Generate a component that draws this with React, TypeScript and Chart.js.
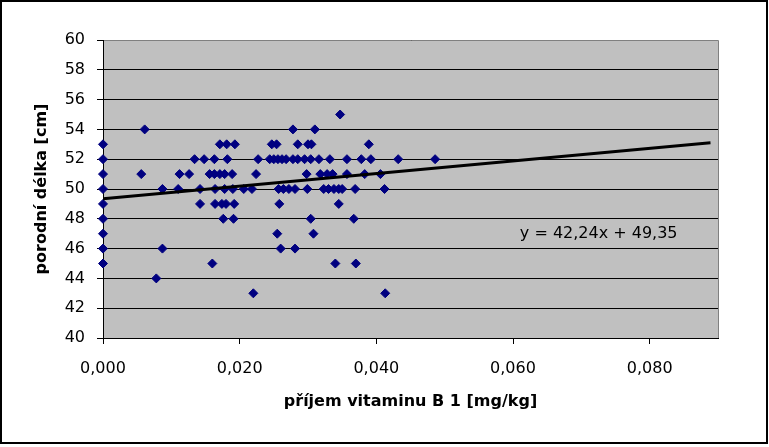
import React, { useEffect, useRef } from "react";
import { Chart, registerables } from "chart.js";

Chart.register(...registerables);

// Vitamin B1 intake [mg/kg] of the points at each birth length [cm]
const intakeAt55 = [0.0347];
const intakeAt54 = [0.0061, 0.0278, 0.031];
const intakeAt53 = [0, 0.0171, 0.0181, 0.0193, 0.0247, 0.0254, 0.0285, 0.03, 0.0305, 0.0389];
const intakeAt52 = [
  0, 0.0134, 0.0148, 0.0163, 0.0182, 0.0227, 0.0244, 0.025, 0.0256, 0.0262, 0.0268,
  0.0278, 0.0285, 0.0295, 0.0304, 0.0316, 0.0332, 0.0357, 0.0378, 0.0392, 0.0432, 0.0486,
];
const intakeAt51 = [
  0, 0.0056, 0.0112, 0.0126, 0.0156, 0.0163, 0.0171, 0.0178, 0.0189, 0.0224, 0.0298,
  0.0318, 0.0328, 0.0336, 0.0357, 0.0383, 0.0406,
];
const intakeAt50 = [
  0, 0.0087, 0.011, 0.0142, 0.0164, 0.0178, 0.019, 0.0206, 0.0218, 0.0257, 0.0264,
  0.0272, 0.0281, 0.0299, 0.0323, 0.033, 0.0338, 0.0345, 0.035, 0.0369, 0.0412,
];
const intakeAt49 = [0, 0.0142, 0.0164, 0.0174, 0.018, 0.0192, 0.0258, 0.0345];
const intakeAt48 = [0, 0.0176, 0.0191, 0.0304, 0.0367];
const intakeAt47 = [0, 0.0255, 0.0308];
const intakeAt46 = [0, 0.0087, 0.026, 0.0281];
const intakeAt45 = [0, 0.016, 0.034, 0.037];
const intakeAt44 = [0.0078];
const intakeAt43 = [0.022, 0.0413];

const birthLengths = [55, 54, 53, 52, 51, 50, 49, 48, 47, 46, 45, 44, 43];
const intakeRows = [
  intakeAt55, intakeAt54, intakeAt53, intakeAt52, intakeAt51, intakeAt50, intakeAt49,
  intakeAt48, intakeAt47, intakeAt46, intakeAt45, intakeAt44, intakeAt43,
];

const xTickValues = [0, 0.02, 0.04, 0.06, 0.08];
const xMin = 0;
const xMax = 0.09;
const yMin = 40;
const yMax = 60;
const yStep = 2;

const trendSlope = 42.24;
const trendIntercept = 49.35;
const trendXStart = 0;
const trendXEnd = 0.0889;
const equationText = "y = 42,24x + 49,35";
const equationAt = { x: 0.061, y: 47.0 };

const xTitle = "příjem vitaminu B 1 [mg/kg]";
const yTitle = "porodní délka [cm]";

const FONT = "DejaVu Sans";

export default function App() {
  const canvasRef = useRef<HTMLCanvasElement>(null);

  useEffect(() => {
    const canvas = canvasRef.current;
    if (!canvas) return;

    const points = birthLengths.flatMap((len, i) => intakeRows[i].map((x) => ({ x, y: len })));
    const trend = [trendXStart, trendXEnd].map((x) => ({ x, y: trendSlope * x + trendIntercept }));

    const excelPlugin = {
      id: "excelStyle",
      beforeDraw(chart: any) {
        const { ctx, chartArea: a } = chart;
        ctx.save();
        ctx.fillStyle = "#ffffff";
        ctx.fillRect(0, 0, chart.width, chart.height);
        ctx.fillStyle = "#c0c0c0";
        ctx.fillRect(a.left, a.top, a.right - a.left, a.bottom - a.top);
        ctx.restore();
      },
      beforeDatasetsDraw(chart: any) {
        const { ctx, chartArea: a } = chart;
        ctx.save();
        ctx.strokeStyle = "#808080";
        ctx.lineWidth = 1;
        ctx.beginPath();
        ctx.moveTo(Math.round(a.left) + 1, Math.round(a.top) + 0.5);
        ctx.lineTo(Math.round(a.right) + 0.5, Math.round(a.top) + 0.5);
        ctx.lineTo(Math.round(a.right) + 0.5, Math.round(a.bottom));
        ctx.stroke();
        ctx.restore();
      },
      afterDraw(chart: any) {
        const { ctx } = chart;
        const xs = chart.scales.x;
        const ys = chart.scales.y;
        ctx.save();
        ctx.fillStyle = "#000";
        ctx.font = `16px "${FONT}"`;
        ctx.textAlign = "left";
        ctx.textBaseline = "middle";
        ctx.fillText(equationText, xs.getPixelForValue(equationAt.x), ys.getPixelForValue(equationAt.y));
        ctx.strokeStyle = "#000";
        ctx.lineWidth = 2;
        ctx.strokeRect(1, 1, 766, 442);
        ctx.restore();
      },
    };

    const chart = new Chart(canvas, {
      type: "scatter",
      data: {
        datasets: [
          {
            type: "line",
            label: "trend",
            data: trend,
            borderColor: "#000",
            borderWidth: 3,
            pointRadius: 0,
            fill: false,
            order: 0,
          } as any,
          {
            label: "data",
            data: points,
            pointStyle: "rectRot",
            pointRadius: 4.5,
            pointBorderWidth: 1,
            backgroundColor: "#000080",
            borderColor: "#000080",
            clip: false,
            order: 1,
          },
        ],
      },
      options: {
        responsive: false,
        animation: false,
        events: [],
        layout: { padding: { top: 40, right: 51, bottom: 0, left: 0 } },
        plugins: {
          legend: { display: false },
          tooltip: { enabled: false },
          title: { display: false },
        },
        scales: {
          x: {
            type: "linear",
            position: "bottom",
            min: xMin,
            max: xMax,
            afterBuildTicks: (s: any) => {
              s.ticks = xTickValues.map((v) => ({ value: v }));
            },
            afterFit: (s: any) => {
              s.height = 109;
            },
            grid: { drawOnChartArea: false, drawTicks: true, tickLength: 6, color: "#000", lineWidth: 1 },
            border: { display: true, color: "#000", width: 1 },
            ticks: {
              color: "#000",
              font: { family: FONT, size: 16 },
              padding: 15,
              maxRotation: 0,
              autoSkip: false,
              callback: (v: any) => Number(v).toFixed(3).replace(".", ","),
            },
            title: {
              display: true,
              text: xTitle,
              color: "#000",
              font: { family: FONT, size: 16, weight: "bold" },
              padding: { top: 0, bottom: 36 },
            },
          },
          y: {
            type: "linear",
            min: yMin,
            max: yMax,
            afterFit: (s: any) => {
              s.width = 103;
            },
            grid: { drawOnChartArea: true, drawTicks: true, tickLength: 6, color: "#000", lineWidth: 1 },
            border: { display: true, color: "#000", width: 1 },
            ticks: {
              stepSize: yStep,
              color: "#000",
              font: { family: FONT, size: 16 },
              padding: 12,
              callback: (v: any) => String(v),
            },
            title: {
              display: true,
              text: yTitle,
              color: "#000",
              font: { family: FONT, size: 16, weight: "bold" },
              padding: { top: 32, bottom: 0 },
            },
          },
        },
      },
      plugins: [excelPlugin],
    } as any);

    return () => chart.destroy();
  }, []);

  return (
    <div style={{ position: "absolute", left: 0, top: 0, width: 769, height: 447 }}>
      <canvas ref={canvasRef} width={769} height={447} style={{ display: "block", width: 769, height: 447 }} />
    </div>
  );
}
